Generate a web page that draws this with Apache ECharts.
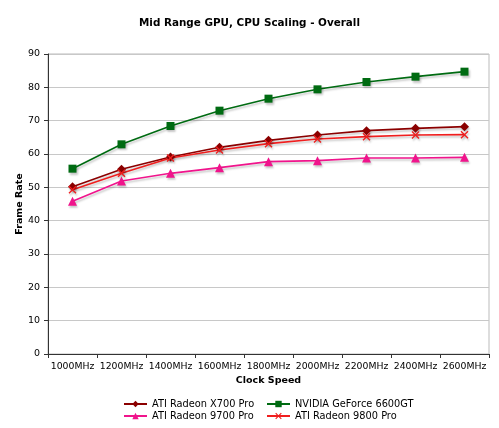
<!DOCTYPE html>
<html>
<head>
<meta charset="utf-8">
<style>html,body{margin:0;padding:0;background:#fff}#c{width:499px;height:428px}</style>
<script src="https://cdn.jsdelivr.net/npm/echarts@6/dist/echarts.min.js"></script>
</head>
<body>
<div id="c"></div>
<script>
const categories = ['1000MHz','1200MHz','1400MHz','1600MHz','1800MHz','2000MHz','2200MHz','2400MHz','2600MHz'];
const x700 = [50.2, 55.4, 59.1, 62.0, 64.1, 65.7, 67.0, 67.7, 68.2];
const gf6600 = [55.6, 62.9, 68.4, 73.0, 76.6, 79.4, 81.6, 83.2, 84.7];
const r9700 = [45.8, 51.9, 54.2, 55.9, 57.7, 58.0, 58.8, 58.8, 59.0];
const r9800 = [49.3, 54.2, 58.8, 61.2, 63.1, 64.5, 65.2, 65.7, 65.8];
const yTicks = [0, 90, 10];
const seriesNames = ['ATI Radeon X700 Pro', 'NVIDIA GeForce 6600GT', 'ATI Radeon 9700 Pro', 'ATI Radeon 9800 Pro'];

const font = 'DejaVu Sans, Verdana, sans-serif';
const xPath = 'path://M0,1.2L1.2,0L5,3.8L8.8,0L10,1.2L6.2,5L10,8.8L8.8,10L5,6.2L1.2,10L0,8.8L3.8,5Z';
function mk(name, data, color, symbol, size) {
  return {
    name, type: 'line', data, symbol, symbolSize: size,
    lineStyle: {color, width: 1.6, shadowColor: 'rgba(0,0,0,0.22)', shadowBlur: 2, shadowOffsetX: 1, shadowOffsetY: 2},
    itemStyle: {color, shadowColor: 'rgba(0,0,0,0.22)', shadowBlur: 2, shadowOffsetX: 1, shadowOffsetY: 2},
    emphasis: {disabled: true}, animation: false
  };
}
const chart = echarts.init(document.getElementById('c'), null, {renderer: 'canvas'});
const legendText = {fontFamily: font, fontSize: 9.8, color: '#000'};
const legendPos = [[123, 399], [266, 399], [123, 411], [266, 411]];
const legends = seriesNames.map((n, i) => ({
  orient: 'horizontal', left: legendPos[i][0], top: legendPos[i][1], itemWidth: 23, itemHeight: 8,
  textStyle: legendText, selectedMode: false, padding: 0, data: [n]
}));
chart.setOption({
  backgroundColor: '#fff',
  title: {text: 'Mid Range GPU, CPU Scaling - Overall', left: 'center', top: 13,
    textStyle: {fontFamily: font, fontSize: 10.4, fontWeight: 'bold', color: '#000'}},
  grid: {left: 48, right: 10, top: 54, bottom: 74, show: true, borderColor: '#bbb', borderWidth: 1},
  legend: legends,
  xAxis: {
    type: 'category', data: categories, boundaryGap: true,
    name: 'Clock Speed', nameLocation: 'middle', nameGap: 22, nameMoveOverlap: false,
    nameTextStyle: {fontFamily: font, fontSize: 9.5, fontWeight: 'bold', color: '#000'},
    axisLine: {lineStyle: {color: '#333', width: 1}},
    axisTick: {show: true, length: 4, lineStyle: {color: '#333'}},
    axisLabel: {fontFamily: font, fontSize: 9.3, color: '#000', interval: 0, margin: 8}
  },
  yAxis: {
    type: 'value', min: yTicks[0], max: yTicks[1], interval: yTicks[2],
    name: 'Frame Rate', nameLocation: 'middle', nameGap: 23, nameMoveOverlap: false,
    nameTextStyle: {fontFamily: font, fontSize: 9.5, fontWeight: 'bold', color: '#000'},
    axisLine: {show: true, lineStyle: {color: '#333', width: 1}},
    axisTick: {show: true, length: 4, lineStyle: {color: '#333'}},
    axisLabel: {fontFamily: font, fontSize: 9.5, color: '#000', margin: 8},
    splitLine: {lineStyle: {color: '#c8c8c8', width: 1}}
  },
  series: [
    mk(seriesNames[0], x700, '#8b0000', 'diamond', 9),
    mk(seriesNames[1], gf6600, '#006b12', 'rect', 8),
    mk(seriesNames[2], r9700, '#f0148c', 'triangle', 9),
    mk(seriesNames[3], r9800, '#f01e1e', xPath, 8)
  ]
});
</script>
</body>
</html>
